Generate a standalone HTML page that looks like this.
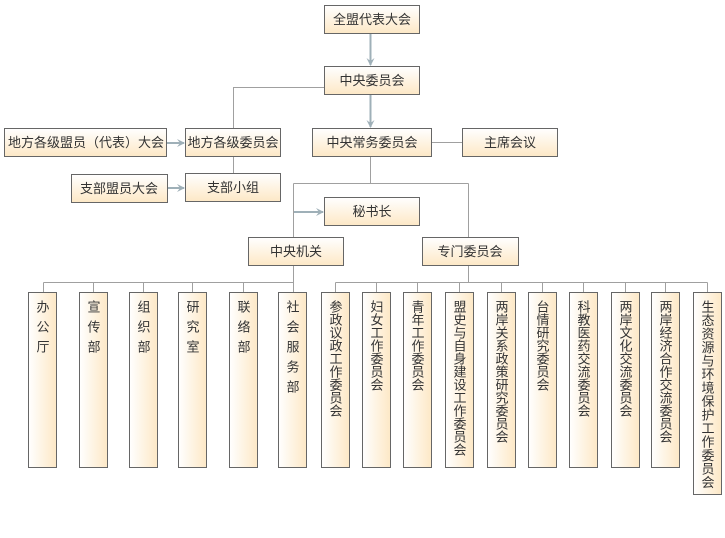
<!DOCTYPE html>
<html><head><meta charset="utf-8"><style>
html,body{margin:0;padding:0;background:#fff;}
svg{display:block;font-family:"Liberation Sans","Noto Sans CJK SC","WenQuanYi Zen Hei",sans-serif;}
</style></head><body>
<svg width="725" height="538" viewBox="0 0 725 538" xmlns="http://www.w3.org/2000/svg">
<defs>
<linearGradient id="gv" x1="0" y1="0" x2="0" y2="1"><stop offset="0" stop-color="#ffffff"/><stop offset="1" stop-color="#fde8c6"/></linearGradient>
<linearGradient id="gh" x1="0" y1="0" x2="1" y2="0"><stop offset="0" stop-color="#ffffff"/><stop offset="1" stop-color="#fde8c6"/></linearGradient>
<marker id="ar" markerWidth="8" markerHeight="8" refX="7" refY="4" orient="auto" markerUnits="userSpaceOnUse"><path d="M0,0 L8,4 L0,8 L3,4 z" fill="#9fb0b8"/></marker>
</defs>
<g stroke="#a0a0a0" stroke-width="1" fill="none">
<path d="M324.5,87.5 H233.5 V128"/>
<path d="M233.5,156 V173"/>
<path d="M431,142.5 H462"/>
<path d="M370.5,156 V183.5 M293.5,183.5 H468.5 M293.5,183.5 V237 M468.5,183.5 V237"/>
<path d="M293.5,265 V282.5 M43.5,282.5 H294 M468.5,265 V282.5 M335.5,282.5 H707.5"/>
<path d="M43.5,282.5V292 M93.5,282.5V292 M143.5,282.5V292 M192.5,282.5V292 M243.5,282.5V292 M293.5,282.5V292"/>
<path d="M335.5,282.5V292 M376.5,282.5V292 M417.5,282.5V292 M459.5,282.5V292 M501.5,282.5V292 M542.5,282.5V292 M583.5,282.5V292 M625.5,282.5V292 M665.5,282.5V292 M707.5,282.5V292"/>
</g>
<g stroke="#9fb0b8" stroke-width="2" fill="none">
<path d="M370.5,33 V65" marker-end="url(#ar)"/>
<path d="M370.5,94 V127" marker-end="url(#ar)"/>
<path d="M167,143 H184" marker-end="url(#ar)"/>
<path d="M167,188 H184" marker-end="url(#ar)"/>
<path d="M294,212 H323" marker-end="url(#ar)"/>
</g>
<g stroke="#666" stroke-width="1" fill="url(#gv)">
<rect x="324.5" y="5.5" width="95" height="28"/>
<rect x="324.5" y="66.5" width="95" height="28"/>
<rect x="312.5" y="128.5" width="119" height="28"/>
<rect x="462.5" y="128.5" width="95" height="28"/>
<rect x="4.5" y="128.5" width="162" height="28"/>
<rect x="185.5" y="128.5" width="95" height="28"/>
<rect x="71.5" y="174.5" width="96" height="28"/>
<rect x="185.5" y="173.5" width="95" height="28"/>
<rect x="324.5" y="197.5" width="95" height="28"/>
<rect x="248.5" y="237.5" width="95" height="28"/>
<rect x="422.5" y="237.5" width="96" height="28"/>
</g>
<g fill="#333" font-size="13" text-anchor="middle">
<text x="372" y="24">全盟代表大会</text>
<text x="372" y="85">中央委员会</text>
<text x="372" y="147">中央常务委员会</text>
<text x="510" y="147">主席会议</text>
<text x="86" y="147">地方各级盟员（代表）大会</text>
<text x="233" y="147">地方各级委员会</text>
<text x="119" y="193">支部盟员大会</text>
<text x="233" y="192">支部小组</text>
<text x="372" y="216">秘书长</text>
<text x="296" y="256">中央机关</text>
<text x="470" y="256">专门委员会</text>
</g>
<g stroke="#666" stroke-width="1" fill="url(#gh)">
<rect x="28.5" y="292.5" width="28" height="175"/>
<rect x="79.5" y="292.5" width="28" height="175"/>
<rect x="129.5" y="292.5" width="28" height="175"/>
<rect x="178.5" y="292.5" width="28" height="175"/>
<rect x="229.5" y="292.5" width="28" height="175"/>
<rect x="278.5" y="292.5" width="28" height="175"/>
<rect x="321.5" y="292.5" width="28" height="175"/>
<rect x="362.5" y="292.5" width="28" height="175"/>
<rect x="403.5" y="292.5" width="28" height="175"/>
<rect x="445.5" y="292.5" width="28" height="175"/>
<rect x="487.5" y="292.5" width="28" height="175"/>
<rect x="528.5" y="292.5" width="28" height="175"/>
<rect x="569.5" y="292.5" width="28" height="175"/>
<rect x="611.5" y="292.5" width="28" height="175"/>
<rect x="651.5" y="292.5" width="28" height="175"/>
<rect x="693.5" y="292.5" width="28" height="202"/>
</g>
<g fill="#333" font-size="13" text-anchor="start" writing-mode="tb">
<text x="42" y="300" letter-spacing="7">办公厅</text>
<text x="93" y="300" letter-spacing="7">宣传部</text>
<text x="143" y="300" letter-spacing="7">组织部</text>
<text x="192" y="300" letter-spacing="7">研究室</text>
<text x="243" y="300" letter-spacing="7">联络部</text>
<text x="292" y="300" letter-spacing="7">社会服务部</text>
<text x="335" y="300">参政议政工作委员会</text>
<text x="376" y="300">妇女工作委员会</text>
<text x="417" y="300">青年工作委员会</text>
<text x="459" y="300">盟史与自身建设工作委员会</text>
<text x="501" y="300">两岸关系政策研究委员会</text>
<text x="542" y="300">台情研究委员会</text>
<text x="583" y="300">科教医药交流委员会</text>
<text x="625" y="300">两岸文化交流委员会</text>
<text x="665" y="300">两岸经济合作交流委员会</text>
<text x="707" y="300" letter-spacing="0.5">生态资源与环境保护工作委员会</text>
</g>
</svg>
</body></html>
